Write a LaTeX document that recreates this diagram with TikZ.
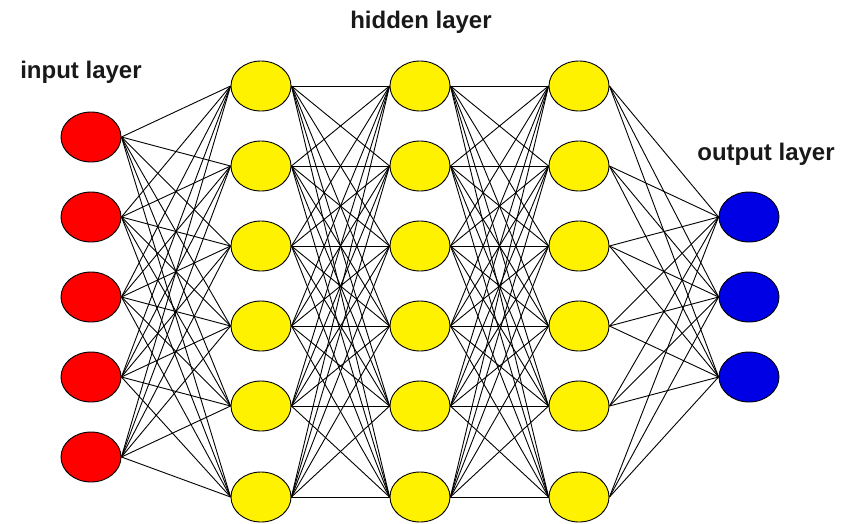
\documentclass[tikz,border=0pt]{standalone}
\usepackage{fontspec}
\setmainfont{Liberation Sans}
\usepackage{tikz}
\usetikzlibrary{shapes}

\tikzset{
  neuron/.style={ellipse, draw=black, line width=0.9pt, inner sep=0pt,
    minimum width=60pt, minimum height=50pt},
  inneuron/.style={neuron, fill=red},
  hidneuron/.style={neuron, fill=yellow},
  outneuron/.style={neuron, fill=blue!90!black},
  layerlabel/.style={inner sep=0pt, text=black!90,
    font=\fontsize{24}{28}\selectfont\bfseries},
  wire/.style={line width=0.9pt, black}
}

\begin{document}
\begin{tikzpicture}[x=1pt, y=-1pt]
\useasboundingbox (0,0) rectangle (846,523);

\node[layerlabel] (inlabel) at (81,72) {input layer};
\node[layerlabel] (hidlabel) at (421,22) {hidden layer};
\node[layerlabel] (outlabel) at (766,154) {output layer};

% input layer
\foreach \n/\y in {1/137, 2/217, 3/297, 4/377, 5/457}
  \node[inneuron] (i\n) at (91,\y) {};

% hidden layers
\foreach \n/\y in {1/86, 2/166, 3/246, 4/326, 5/406, 6/497} {
  \node[hidneuron] (a\n) at (261,\y) {};
  \node[hidneuron] (b\n) at (420,\y) {};
  \node[hidneuron] (c\n) at (579,\y) {};
}

% output layer
\foreach \n/\y in {1/217, 2/297, 3/377}
  \node[outneuron] (o\n) at (749,\y) {};

% connections
\foreach \s in {1,...,5}
  \foreach \t in {1,...,6}
    \draw[wire] (i\s.east) -- (a\t.west);
\foreach \s in {1,...,6}
  \foreach \t in {1,...,6} {
    \draw[wire] (a\s.east) -- (b\t.west);
    \draw[wire] (b\s.east) -- (c\t.west);
  }
\foreach \s in {1,...,6}
  \foreach \t in {1,...,3}
    \draw[wire] (c\s.east) -- (o\t.west);

\end{tikzpicture}
\end{document}
